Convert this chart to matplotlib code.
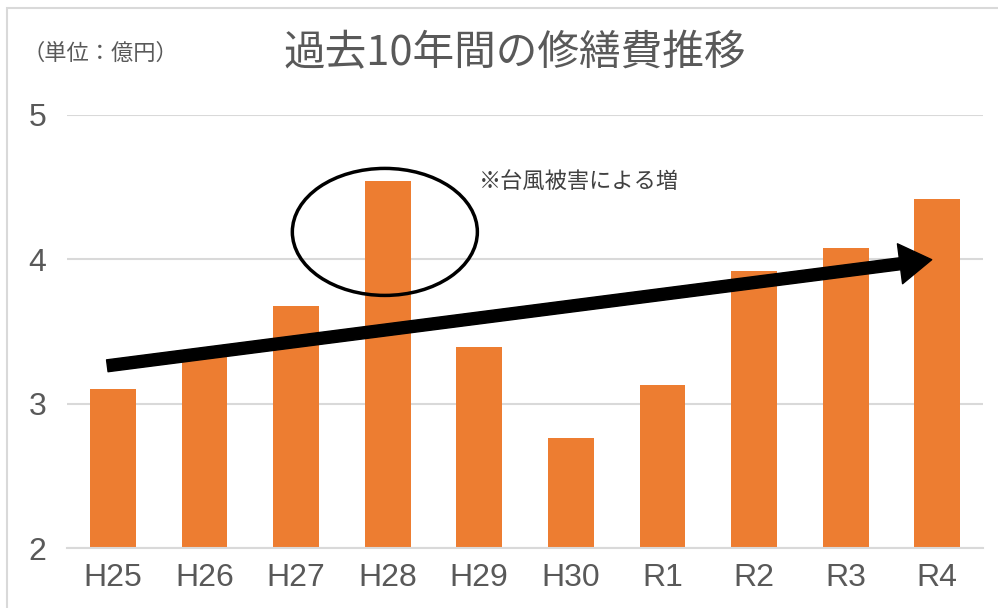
import numpy as np
import matplotlib.pyplot as plt
from matplotlib.patches import Ellipse, FancyArrowPatch, Rectangle

# Chart data.
years = ['H25', 'H26', 'H27', 'H28', 'H29', 'H30', 'R1', 'R2', 'R3', 'R4']
repair_cost = [3.10, 3.35, 3.68, 4.54, 3.39, 2.76, 3.13, 3.92, 4.08, 4.42]
y_ticks = [2, 3, 4, 5]

plt.rcParams['font.family'] = ['Noto Sans CJK JP', 'DejaVu Sans']

fig = plt.figure(figsize=(9.98, 6.08), dpi=100)
ax = fig.add_axes([67 / 998, 1 - 548 / 608, (983 - 67) / 998, (548 - 115) / 608])

# Bars.
x = np.arange(len(years))
ax.bar(x, repair_cost, width=0.5, color='#ED7D31', zorder=2)

ax.set_xlim(-0.5, len(years) - 0.5)
ax.set_ylim(2, 5)
ax.set_yticks(y_ticks)
ax.set_xticks(x)
ax.set_xticklabels(years, family=['Liberation Sans'], fontsize=23, color='#595959')
ax.set_yticklabels([str(t) for t in y_ticks], family=['Liberation Sans'], fontsize=23, color='#595959')
ax.tick_params(axis='both', length=0)
ax.tick_params(axis='y', pad=15)
ax.tick_params(axis='x', pad=11)

# Gridlines and frame.
ax.grid(axis='y', color='#d9d9d9', lw=1.5, zorder=1)
ax.set_axisbelow(True)
for s in ['top', 'right', 'left']:
    ax.spines[s].set_visible(False)
ax.spines['bottom'].set_color('#d9d9d9')
ax.spines['bottom'].set_linewidth(1.5)

# Trend arrow.
arrow = FancyArrowPatch((-0.09, 3.26), (8.97, 4.0),
                        arrowstyle='simple,head_length=23,head_width=29,tail_width=8.6',
                        mutation_scale=1, color='black', zorder=4, clip_on=False)
ax.add_patch(arrow)

# Ellipse around H28.
ax.add_patch(Ellipse((2.97, 4.19), 2.02, 0.88, fill=False, edgecolor='black', lw=2.5, zorder=3, clip_on=False))
ax.text(4.0, 4.54, '※台風被害による増', fontsize=16, color='#404040', va='center', ha='left')

# Titles.
fig.text(515 / 998, 1 - 54 / 608, '過去10年間の修繕費推移', fontsize=30, color='#595959', ha='center', va='center')
fig.text(22 / 998, 1 - 53 / 608, '（単位：億円）', fontsize=16, color='#595959', ha='left', va='center')

# Outer border.
fig.patches.append(Rectangle((7 / 998, -0.1), 1.2, 1 - 8 / 608 + 0.1, transform=fig.transFigure,
                             fill=False, edgecolor='#d9d9d9', lw=1.5))

fig.savefig('out.png', dpi=100)
